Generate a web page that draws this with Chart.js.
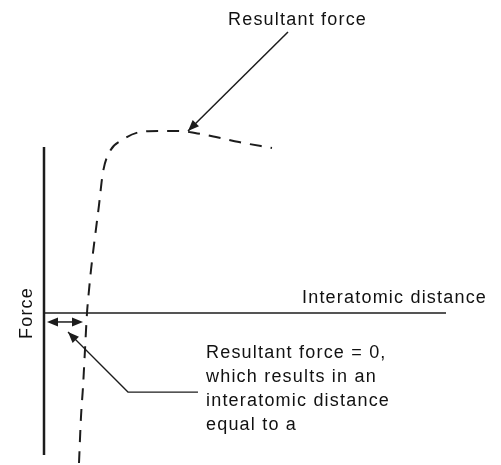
<!DOCTYPE html>
<html>
<head>
<meta charset="utf-8">
<script src="https://cdn.jsdelivr.net/npm/chart.js@4/dist/chart.umd.min.js"></script>
<style>
  html, body { margin: 0; padding: 0; background: #fff; }
  #wrap { width: 501px; height: 465px; }
</style>
</head>
<body>
<div id="wrap"><canvas id="forceChart" width="501" height="465"></canvas></div>
<script>
// interatomic distance (a = 1) and resultant force (peak = 1)
const distance = [0.814, 0.860, 0.907, 0.953, 1.0, 1.047, 1.093, 1.279, 1.372, 1.535, 1.814, 2.233, 2.651, 3.093, 3.512, 4.0, 4.535, 5.302];
const force    = [-0.820, -0.568, -0.404, -0.202, 0, 0.126, 0.235, 0.590, 0.770, 0.885, 0.945, 0.989, 0.995, 0.995, 0.984, 0.962, 0.934, 0.902];

// axis lines of the sketch
const forceAxisX = [0, 0];
const forceAxisY = [0.907, -0.776];
const distAxisX = [0, 9.349];
const distAxisY = [0, 0];

const ink = '#1c1c1c';
const font = '18px "Liberation Sans", Arial, sans-serif';

const curve = distance.map((d, i) => ({ x: d, y: force[i] }));

// arrow + label drawing
function arrowHead(ctx, x1, y1, x2, y2) {
    const ang = Math.atan2(y2 - y1, x2 - x1);
    const len = 11, half = 4.5;
    ctx.beginPath();
    ctx.moveTo(x2, y2);
    ctx.lineTo(x2 - len * Math.cos(ang) + half * Math.sin(ang), y2 - len * Math.sin(ang) - half * Math.cos(ang));
    ctx.lineTo(x2 - len * Math.cos(ang) - half * Math.sin(ang), y2 - len * Math.sin(ang) + half * Math.cos(ang));
    ctx.closePath();
    ctx.fill();
}

const sketchNotes = {
    id: 'sketchNotes',
    afterDatasetsDraw(chart) {
        const { ctx, scales: { x, y } } = chart;
        const px = v => x.getPixelForValue(v);
        const py = v => y.getPixelForValue(v);
        ctx.save();
        ctx.strokeStyle = ink;
        ctx.fillStyle = ink;
        ctx.lineWidth = 1.5;
        ctx.setLineDash([]);

        // arrow to the peak
        let x1 = px(5.674), y1 = py(1.536), x2 = px(3.349), y2 = py(0.995);
        ctx.beginPath(); ctx.moveTo(x1, y1); ctx.lineTo(x2, y2); ctx.stroke();
        arrowHead(ctx, x1, y1, x2, y2);

        // double arrow marking a
        x1 = px(0.07); x2 = px(0.907); y1 = py(-0.049);
        ctx.beginPath(); ctx.moveTo(x1 + 4, y1); ctx.lineTo(x2 - 4, y1); ctx.stroke();
        arrowHead(ctx, x2, y1, x1, y1);
        arrowHead(ctx, x1, y1, x2, y1);

        // leader line to the note
        ctx.lineWidth = 1.3;
        ctx.beginPath();
        ctx.moveTo(px(3.581), py(-0.432));
        ctx.lineTo(px(1.953), py(-0.432));
        ctx.lineTo(px(0.558), py(-0.104));
        ctx.stroke();
        arrowHead(ctx, px(1.953), py(-0.432), px(0.558), py(-0.104));

        // texts
        ctx.font = font;
        ctx.letterSpacing = '1.2px';
        ctx.textBaseline = 'alphabetic';
        ctx.textAlign = 'left';
        ctx.fillStyle = '#111';
        ctx.fillText('Resultant force', px(4.279), py(1.574));
        ctx.fillText('Interatomic distance', px(6.0), py(0.055));
        const note = ['Resultant force = 0,', 'which results in an', 'interatomic distance', 'equal to a'];
        const noteY = [-0.246, -0.377, -0.508, -0.639];
        note.forEach((t, i) => ctx.fillText(t, px(3.767), py(noteY[i])));

        ctx.translate(px(-0.279), py(0));
        ctx.rotate(-Math.PI / 2);
        ctx.textAlign = 'center';
        ctx.fillText('Force', 0, 0);
        ctx.restore();
    }
};

new Chart(document.getElementById('forceChart'), {
    type: 'scatter',
    data: {
        datasets: [
            {
                data: curve,
                showLine: true,
                borderColor: ink,
                borderWidth: 2,
                borderDash: [12, 9],
                cubicInterpolationMode: 'monotone',
                pointRadius: 0
            },
            {
                data: forceAxisX.map((v, i) => ({ x: v, y: forceAxisY[i] })),
                showLine: true,
                borderColor: ink,
                borderWidth: 2.5,
                pointRadius: 0
            },
            {
                data: distAxisX.map((v, i) => ({ x: v, y: distAxisY[i] })),
                showLine: true,
                borderColor: ink,
                borderWidth: 1.5,
                pointRadius: 0
            }
        ]
    },
    options: {
        responsive: false,
        animation: false,
        layout: { padding: 0 },
        scales: {
            x: { type: 'linear', display: false, min: -1.0233, max: 10.628 },
            y: { type: 'linear', display: false, min: -0.8306, max: 1.7104 }
        },
        plugins: {
            legend: { display: false },
            tooltip: { enabled: false }
        }
    },
    plugins: [sketchNotes]
});
</script>
</body>
</html>
